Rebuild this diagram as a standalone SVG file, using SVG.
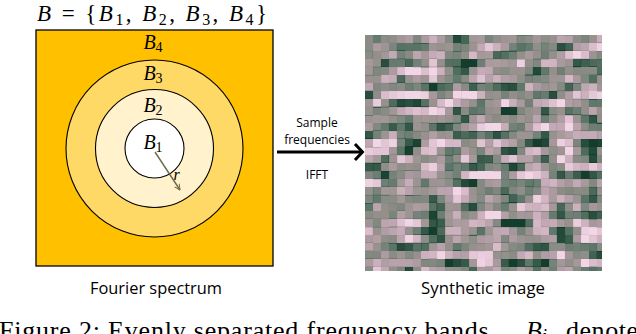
<svg xmlns="http://www.w3.org/2000/svg" width="636" height="334" viewBox="0 0 636 334">
<style>
.math{font-family:"Liberation Serif","DejaVu Serif",serif;fill:#000}
.it{font-style:italic}
.lbl{font-family:"Open Sans","Liberation Sans",sans-serif;fill:#000}
.ring{stroke:#000;stroke-width:1.1}
</style>
<defs>
<marker id="rhead" viewBox="0 0 10 10" refX="9" refY="5" markerWidth="7" markerHeight="7" orient="auto" markerUnits="userSpaceOnUse">
<path d="M1,1 L9,5 L1,9" fill="none" stroke="#6b6a45" stroke-width="1.4"/>
</marker>
<filter id="pix" filterUnits="userSpaceOnUse" primitiveUnits="userSpaceOnUse" x="365" y="35" width="237" height="236" color-interpolation-filters="sRGB">
<feTurbulence type="fractalNoise" baseFrequency="0.038 0.1" numOctaves="3" seed="11" result="n"/>
<feColorMatrix in="n" type="matrix" values="1 0 0 0 0 1 0 0 0 0 1 0 0 0 0 0 0 0 0 1" result="g"/>
<feComponentTransfer in="g" result="s">
<feFuncR type="linear" slope="2.1" intercept="-0.55"/>
<feFuncG type="linear" slope="2.1" intercept="-0.55"/>
<feFuncB type="linear" slope="2.1" intercept="-0.55"/>
</feComponentTransfer>
<feComponentTransfer in="s" result="c">
<feFuncR type="table" tableValues="0.08 0.2 0.36 0.5 0.6 0.7 0.84 0.95"/>
<feFuncG type="table" tableValues="0.24 0.34 0.46 0.53 0.57 0.62 0.72 0.84"/>
<feFuncB type="table" tableValues="0.18 0.28 0.41 0.5 0.56 0.65 0.78 0.9"/>
</feComponentTransfer>
<feFlood x="368" y="38" width="2" height="2" flood-color="#000" result="dot"/>
<feOffset in="dot" dx="0" dy="0" x="365" y="35" width="8" height="8" result="cell"/>
<feTile in="cell" result="grid"/>
<feComposite in="c" in2="grid" operator="in" result="samp"/>
<feMorphology in="samp" operator="dilate" radius="3"/>
</filter>
</defs>

<text id="title" class="math" x="152" y="20.5" text-anchor="middle" font-size="23" textLength="230" lengthAdjust="spacing"><tspan class="it">B</tspan> = {<tspan class="it">B</tspan><tspan font-size="16" dy="4">1</tspan><tspan dy="-4">, </tspan><tspan class="it">B</tspan><tspan font-size="16" dy="4">2</tspan><tspan dy="-4">, </tspan><tspan class="it">B</tspan><tspan font-size="16" dy="4">3</tspan><tspan dy="-4">, </tspan><tspan class="it">B</tspan><tspan font-size="16" dy="4">4</tspan><tspan dy="-4">}</tspan></text>

<g id="spectrum">
<rect x="36" y="30" width="237" height="236" fill="#FFC000" stroke="#000" stroke-width="1.3"/>
<g id="band-B3"><circle class="ring" cx="154.5" cy="148.5" r="88.5" fill="#FFD966"/></g>
<g id="band-B2"><circle class="ring" cx="154.5" cy="148.5" r="59" fill="#FFF2CC"/></g>
<g id="band-B1"><circle class="ring" cx="154.5" cy="148.5" r="29.5" fill="#FFFFFF"/></g>
<text class="math" x="153" y="49" text-anchor="middle" font-size="20"><tspan class="it">B</tspan><tspan font-size="14" dy="3">4</tspan></text>
<text class="math" x="153" y="80" text-anchor="middle" font-size="20"><tspan class="it">B</tspan><tspan font-size="14" dy="3">3</tspan></text>
<text class="math" x="153" y="112" text-anchor="middle" font-size="20"><tspan class="it">B</tspan><tspan font-size="14" dy="3">2</tspan></text>
<text class="math" x="153" y="149" text-anchor="middle" font-size="20"><tspan class="it">B</tspan><tspan font-size="14" dy="3">1</tspan></text>
<g id="radius">
<line x1="155" y1="152" x2="180" y2="190" stroke="#6b6a45" stroke-width="1.4" marker-end="url(#rhead)"/>
<text class="math it" x="173.5" y="180" font-size="16">r</text>
</g>
<text class="lbl" x="156" y="294" text-anchor="middle" font-size="15.5" textLength="132" lengthAdjust="spacingAndGlyphs">Fourier spectrum</text>
</g>

<g id="connectors">
<line x1="277" y1="152" x2="361" y2="152" stroke="#000" stroke-width="3"/>
<path d="M355,144 L362.5,152 L355,160" fill="none" stroke="#000" stroke-width="3" stroke-linejoin="miter"/>
<text class="lbl" x="317" y="127" text-anchor="middle" font-size="12">Sample</text>
<text class="lbl" x="317" y="144" text-anchor="middle" font-size="12">frequencies</text>
<text class="lbl" x="317" y="178.5" text-anchor="middle" font-size="12">IFFT</text>
</g>

<g id="synthetic">
<rect x="365" y="35" width="237" height="236" fill="#888" filter="url(#pix)"/>
<text class="lbl" x="483" y="294" text-anchor="middle" font-size="15.5" textLength="124" lengthAdjust="spacingAndGlyphs">Synthetic image</text>
</g>

<g id="caption">
<text class="math" x="-1" y="339" font-size="26" textLength="497" lengthAdjust="spacing">Figure 2: Evenly separated frequency bands.</text>
<text class="math" x="526" y="339" font-size="26"><tspan class="it">B</tspan><tspan font-size="18" dy="3" class="it">i</tspan></text>
<text class="math" x="566" y="339" font-size="26" textLength="72" lengthAdjust="spacing">denote</text>
</g>
</svg>
